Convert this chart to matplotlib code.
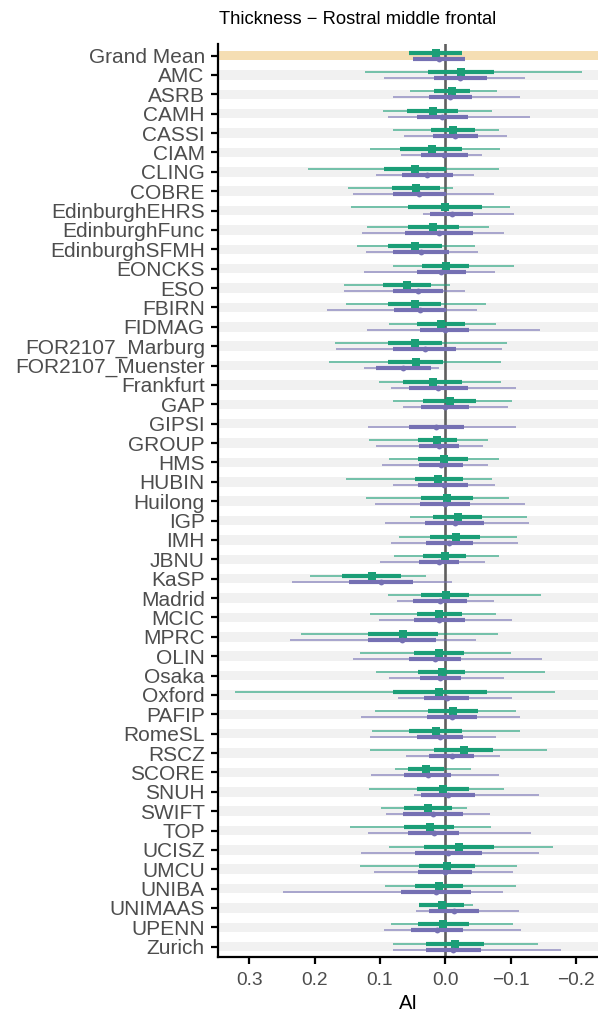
import numpy as np
import matplotlib
matplotlib.use("Agg")
import matplotlib.pyplot as plt

plt.rcParams['font.family'] = ['Liberation Sans', 'DejaVu Sans']

sites = ["Grand Mean", "AMC", "ASRB", "CAMH", "CASSI", "CIAM", "CLING", "COBRE",
         "EdinburghEHRS", "EdinburghFunc", "EdinburghSFMH", "EONCKS", "ESO", "FBIRN",
         "FIDMAG", "FOR2107_Marburg", "FOR2107_Muenster", "Frankfurt", "GAP", "GIPSI",
         "GROUP", "HMS", "HUBIN", "Huilong", "IGP", "IMH", "JBNU", "KaSP", "Madrid",
         "MCIC", "MPRC", "OLIN", "Osaka", "Oxford", "PAFIP", "RomeSL", "RSCZ", "SCORE",
         "SNUH", "SWIFT", "TOP", "UCISZ", "UMCU", "UNIBA", "UNIMAAS", "UPENN", "Zurich"]

nan = np.nan
# green series: thin low, thick low, point, thick high, thin high
g_lo95 = [0.0556, 0.1225, 0.054, 0.0955, 0.080, 0.1149, 0.2098, 0.1496, 0.144, 0.120,
          0.1348, 0.0807, 0.155, 0.152, 0.0858, 0.169, 0.1776, 0.101, 0.080, nan,
          0.1164, 0.0863, 0.1516, 0.121, 0.054, 0.0715, 0.0791, 0.2072, 0.0883,
          0.1159, 0.2205, 0.1312, 0.1057, 0.322, 0.107, 0.1128, 0.1149, 0.0766,
          0.1164, 0.098, 0.1465, 0.0858, 0.1307, 0.0919, 0.0408, 0.0827, 0.080]
g_lo50 = [0.0556, 0.027, 0.0174, 0.058, 0.0225, 0.0689, 0.0939, 0.0822, 0.0572, 0.0577,
          0.0873, 0.0362, 0.096, 0.0883, 0.0429, 0.0883, 0.0873, 0.0643, 0.0337, nan,
          0.0424, 0.0413, 0.047, 0.0373, 0.0189, 0.023, 0.0337, 0.1577, 0.0368,
          0.0439, 0.118, 0.0475, 0.0413, 0.0796, 0.027, 0.0551, 0.0179, 0.0577,
          0.0434, 0.0633, 0.0628, 0.0332, 0.0398, 0.0459, 0.0398, 0.0424, 0.0296]
g_est = [0.0148, -0.0235, -0.0097, 0.0194, -0.0112, 0.0209, 0.047, 0.0454, 0.001, 0.0184,
         0.047, -0.0005, 0.0592, 0.047, 0.0066, 0.047, 0.0454, 0.0194, -0.0066, nan,
         0.0133, 0.002, 0.0107, -0.0026, -0.0189, -0.0158, 0.001, 0.1128, -0.0005,
         0.0092, 0.0653, 0.0102, 0.0056, 0.0092, -0.0112, 0.0148, -0.0281, 0.0301,
         0.0036, 0.0271, 0.024, -0.0204, -0.002, 0.0102, 0.0051, 0.0036, -0.0143]
g_hi50 = [-0.025, -0.074, -0.038, -0.0194, -0.0454, -0.026, -0.0015, 0.0087, -0.0567, -0.0214,
          0.0056, -0.0362, 0.0214, 0.0061, -0.0296, 0.0046, 0.004, -0.025, -0.047, nan,
          -0.0184, -0.0347, -0.028, -0.0424, -0.0567, -0.0536, -0.0316, 0.0674, -0.0362,
          -0.0255, 0.0112, -0.0286, -0.0306, -0.0638, -0.0505, -0.026, -0.0735, 0.0026,
          -0.0362, -0.0102, -0.0138, -0.075, -0.0459, -0.0265, -0.0291, -0.0357, -0.0592]
g_hi95 = [-0.025, -0.210, -0.0796, -0.072, -0.082, -0.0837, -0.0827, -0.0117, -0.0985, -0.0669,
          -0.0449, -0.105, -0.0071, -0.0618, -0.0776, -0.0944, -0.0852, -0.0852, -0.103, nan,
          -0.0648, -0.082, -0.072, -0.0975, -0.1256, -0.1097, -0.082, 0.0296, -0.147,
          -0.0781, -0.0807, -0.1006, -0.1526, -0.1685, -0.1077, -0.115, -0.156, -0.0393,
          -0.0904, -0.0337, -0.0699, -0.1644, -0.1097, -0.1087, -0.0424, -0.1036, -0.1419]

# purple series
p_lo95 = [0.049, 0.0944, 0.080, 0.0883, 0.0628, 0.0679, 0.106, 0.1414, 0.0342, 0.1276,
          0.122, 0.125, 0.155, 0.181, 0.120, 0.167, 0.1245, 0.0827, 0.0653, 0.118,
          0.1057, 0.097, 0.080, 0.107, 0.0924, 0.0832, 0.100, 0.2353, 0.074,
          0.101, 0.2374, 0.1414, 0.0868, 0.073, 0.1286, 0.1149, 0.0597, 0.1143,
          0.048, 0.0914, 0.1184, 0.1297, 0.1087, 0.248, 0.0449, 0.0934, 0.080]
p_lo50 = [0.049, 0.0179, 0.0245, 0.0439, 0.0194, 0.0368, 0.0658, 0.0796, 0.023, 0.0623,
          0.0796, 0.0429, 0.080, 0.078, 0.0388, 0.0796, 0.1067, 0.0551, 0.0373, 0.056,
          0.0403, 0.0398, 0.0419, 0.0383, 0.0306, 0.0296, 0.0398, 0.147, 0.0495,
          0.0485, 0.118, 0.0551, 0.0383, 0.0322, 0.0276, 0.0429, 0.0245, 0.0628,
          0.0368, 0.0648, 0.0577, 0.0465, 0.0419, 0.0674, 0.025, 0.0521, 0.0291]
p_est = [0.0102, -0.0225, -0.0077, 0.0046, -0.0148, 0.0015, 0.028, 0.0398, -0.0097, 0.0097,
         0.0378, 0.0061, 0.0424, 0.0388, 0.001, 0.0316, 0.0643, 0.0107, 0.0005, 0.0138,
         0.0102, 0.0061, 0.002, 0.0, -0.0143, -0.0056, 0.0092, 0.099, 0.0082,
         0.0097, 0.0664, 0.0163, 0.0077, -0.002, -0.0102, 0.0087, -0.0097, 0.0271,
         -0.0041, 0.0184, 0.0179, -0.0041, 0.0, 0.0143, -0.0133, 0.0128, -0.0123]
p_hi50 = [-0.030, -0.0643, -0.041, -0.0347, -0.0495, -0.0342, -0.0112, -0.0015, -0.0429, -0.0429,
          -0.0056, -0.0311, 0.004, -0.0015, -0.0362, -0.0168, 0.022, -0.0347, -0.0362, -0.029,
          -0.0214, -0.028, -0.0347, -0.038, -0.0597, -0.0424, -0.0214, 0.050, -0.0332,
          -0.0296, 0.0143, -0.024, -0.0245, -0.0368, -0.049, -0.0276, -0.0444, -0.0092,
          -0.0459, -0.0276, -0.0214, -0.0562, -0.0408, -0.0388, -0.051, -0.0265, -0.0546]
p_hi95 = [-0.030, -0.1225, -0.115, -0.130, -0.0944, -0.0556, -0.0439, -0.075, -0.1057, -0.0898,
          -0.0495, -0.0755, -0.0296, -0.049, -0.145, -0.0873, 0.0092, -0.1077, -0.0955, -0.1087,
          -0.0582, -0.0659, -0.0755, -0.1215, -0.1276, -0.1108, -0.0602, -0.0102, -0.074,
          -0.103, -0.0465, -0.1475, -0.0904, -0.102, -0.115, -0.0781, -0.0832, -0.0827,
          -0.1434, -0.0679, -0.1312, -0.144, -0.104, -0.0888, -0.1128, -0.1159, -0.1766]

xticks = [0.3, 0.2, 0.1, 0.0, -0.1, -0.2]
xtick_labels = ["0.3", "0.2", "0.1", "0.0", "\u22120.1", "\u22120.2"]

GREEN = "#1b9e77"
PURPLE = "#7570b3"
GRAY_TXT = "#4d4d4d"

fig = plt.figure(figsize=(5.98, 10.15), dpi=100)
ax = fig.add_axes([218 / 598, 1 - 957 / 1015, 1 - 218 / 598, (957 - 44) / 1015])

n = len(sites)
ypos = np.arange(n)
xmin, xmax = 0.348, -0.234

# background bands
for i in range(n):
    col = "#f5deb3" if i == 0 else "#f1f1f1"
    ax.axhspan(i - 0.245, i + 0.245, color=col, lw=0, zorder=0)

ax.axvline(0, color="#5f5f5f", lw=1.9, zorder=1)

def draw(lo95, lo50, est, hi50, hi95, off, color, marker, ms):
    for i in range(n):
        if np.isnan(est[i]):
            continue
        y = i + off
        ax.plot([lo95[i], hi95[i]], [y, y], color=color, lw=1.1, alpha=0.75,
                solid_capstyle="butt", zorder=2)
        ax.plot([lo50[i], hi50[i]], [y, y], color=color, lw=3.0,
                solid_capstyle="butt", zorder=3)
        ax.plot([est[i]], [y], marker=marker, color=color, ms=ms, mew=0, zorder=4)

draw(g_lo95, g_lo50, g_est, g_hi50, g_hi95, -0.16, GREEN, "s", 5.2)
draw(p_lo95, p_lo50, p_est, p_hi50, p_hi95, 0.15, PURPLE, "o", 4.2)

ax.set_xlim(xmin, xmax)
ax.set_ylim(n - 1 + 0.53, -0.6)
ax.set_yticks(ypos)
ax.set_yticklabels(sites, fontsize=15.0, color=GRAY_TXT)
ax.set_xticks(xticks)
ax.set_xticklabels(xtick_labels, fontsize=13.8, color=GRAY_TXT)
ax.set_xlabel("AI", fontsize=14.5, color="black", labelpad=4)

for s in ["top", "right"]:
    ax.spines[s].set_visible(False)
for s in ["left", "bottom"]:
    ax.spines[s].set_linewidth(1.6)
    ax.spines[s].set_color("black")
ax.tick_params(axis="both", length=5, width=1.6, color="black")
ax.tick_params(axis="y", pad=4.5)
ax.tick_params(axis="x", pad=5.5)
ax.set_facecolor("white")

fig.text(358 / 598, 1 - 19 / 1015, "Thickness \u2212 Rostral middle frontal",
         ha="center", va="center", fontsize=13.2, color="black")

fig.savefig("out.png", dpi=100)
